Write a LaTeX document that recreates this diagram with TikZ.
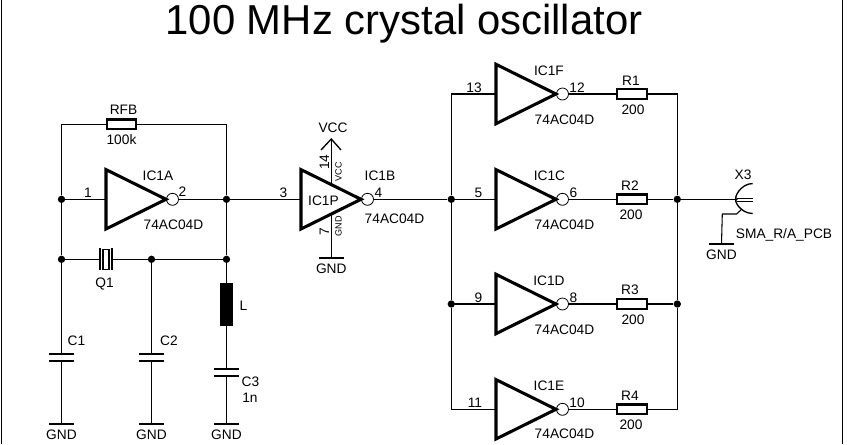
\documentclass[tikz,border=0pt]{standalone}
\usepackage{fontspec}
\setmainfont{Liberation Sans}
\tikzset{
  wire/.style={line width=.8pt,black},
  lab/.style={inner sep=0pt,font=\fontsize{10.3}{12}\selectfont,text=black},
  sml/.style={inner sep=0pt,font=\fontsize{6.8}{8}\selectfont,text=black,rotate=90},
  gatebody/.style={line width=2.3pt,black,line join=miter},
  bubble/.style={circle,draw=black,line width=.6pt,minimum size=9pt,inner sep=0pt},
  res/.style={rectangle,draw=black,line width=1.6pt,minimum width=22pt,minimum height=7.2pt,inner sep=0pt},
  dot/.style={circle,fill=black,minimum size=5.5pt,inner sep=0pt},
  capplate/.style={line width=1.7pt,black},
  gndbar/.style={line width=1.7pt,black}
}
% name, x of triangle left, y of centre
\newcommand{\invgate}[3]{%
  \coordinate (#1in) at (#2,#3);
  \coordinate (#1t) at (#2,#3-29.7);
  \coordinate (#1b) at (#2,#3+29.7);
  \coordinate (#1apex) at (#2+60,#3);
  \draw[gatebody] (#1t) -- (#1apex) -- (#1b) -- cycle;
  \node[bubble] (#1out) at (#2+66.5,#3) {};
}
\newcommand{\gndsym}[3]{% name x y
  \coordinate (#1) at (#2,#3);
  \coordinate (#1l) at (#2-12.3,#3);
  \coordinate (#1r) at (#2+12.3,#3);
  \draw[gndbar] (#1l) -- (#1r);
  \node[lab] (#1txt) at (#2,#3+10.5) {GND};
}
\newcommand{\capsym}[3]{% name x y(first plate)
  \coordinate (#1a) at (#2,#3);
  \coordinate (#1b) at (#2,#3+6.7);
  \draw[capplate] (#2-12.5,#3) -- (#2+12.5,#3);
  \draw[capplate] (#2-12.5,#3+6.7) -- (#2+12.5,#3+6.7);
}
\begin{document}
\begin{tikzpicture}[x=.75pt,y=-.75pt]
\useasboundingbox (0,0) rectangle (847,444);
\fill[white] (0,0) rectangle (847,444);
% frame
\coordinate (fl1) at (1.5,0); \coordinate (fl2) at (1.5,444);
\coordinate (fr1) at (842.5,0); \coordinate (fr2) at (842.5,444);
\draw[wire] (fl1) -- (fl2);
\draw[wire] (fr1) -- (fr2);
\node[inner sep=0pt,anchor=base,font=\fontsize{31.4}{35}\selectfont,text=black] (title) at (404,34) {100 MHz crystal oscillator};

% ---- oscillator
\coordinate (nTL) at (61.5,124.3);
\coordinate (nTR) at (226.5,124.3);
\node[dot] (jA) at (61.5,199.3) {};
\node[dot] (jB) at (226.5,199.3) {};
\node[dot] (jC) at (61.5,259.3) {};
\node[dot] (jD) at (226.5,259.3) {};
\node[dot] (jE) at (151.5,259.3) {};
\node[res] (RFB) at (121.3,124.3) {};
\invgate{a}{106}{199.3}
\draw[wire] (jA) -- (nTL) -- (RFB) -- (nTR) -- (jB);
\draw[wire] (jA) -- (ain);
\draw[wire] (aout) -- (jB);
\draw[wire] (jA) -- (jC);
\draw[wire] (jB) -- (jD);
% crystal
\node[rectangle,draw=black,line width=.9pt,minimum width=4.5pt,minimum height=15pt,inner sep=0pt] (Qb) at (106,259.3) {};
\coordinate (Qlt) at (100,248); \coordinate (Qlb) at (100,270);
\coordinate (Qrt) at (112,248); \coordinate (Qrb) at (112,270);
\coordinate (Ql) at (100,259.3); \coordinate (Qr) at (112,259.3);
\draw[line width=1.3pt] (Qlt) -- (Qlb);
\draw[line width=1.3pt] (Qrt) -- (Qrb);
\draw[wire] (jC) -- (Ql);
\draw[wire] (Qr) -- (jE);
\draw[wire] (jE) -- (jD);
% caps
\capsym{c1}{61.5}{354}
\capsym{c2}{151.5}{354}
\capsym{c3}{226.5}{369}
\gndsym{g1}{61.5}{424}
\gndsym{g2}{151.5}{424}
\gndsym{g3}{226.5}{424}
\node[rectangle,fill=black,minimum width=9.7pt,minimum height=32pt,inner sep=0pt] (Lb) at (226.5,304.3) {};
\draw[wire] (jC) -- (c1a);
\draw[wire] (c1b) -- (g1);
\draw[wire] (jE) -- (c2a);
\draw[wire] (c2b) -- (g2);
\draw[wire] (jD) -- (Lb);
\draw[wire] (Lb) -- (c3a);
\draw[wire] (c3b) -- (g3);
% labels
\node[lab] (tRFB) at (123.5,110) {RFB};
\node[lab] (vRFB) at (121.5,139.5) {100k};
\node[lab] (p1) at (88,193) {1};
\node[lab] (p2) at (182.5,192) {2};
\node[lab] (tIC1A) at (158,175.5) {IC1A};
\node[lab] (vIC1A) at (173.5,224.5) {74AC04D};
\node[lab] (tQ1) at (104.5,283.5) {Q1};
\node[lab] (tC1) at (76.5,340.5) {C1};
\node[lab] (tC2) at (169,340.5) {C2};
\node[lab] (tL) at (243.5,305.5) {L};
\node[lab] (tC3) at (250.5,382) {C3};
\node[lab] (vC3) at (250,398) {1n};

% ---- IC1B / IC1P
\invgate{b}{301}{199.3}
\node[dot] (j1) at (451.3,199.3) {};
\draw[wire] (jB) -- (bin);
\draw[wire] (bout) -- (j1);
\coordinate (vccTip) at (331.3,139);
\coordinate (vccL) at (321,150);
\coordinate (vccR) at (341,150);
\coordinate (vccIn) at (331.3,184);
\coordinate (gndIn) at (331.3,214);
\draw[wire] (vccTip) -- (vccIn);
\draw[line width=1pt] (vccL) -- (vccTip) -- (vccR);
\gndsym{g4}{331.3}{258}
\draw[wire] (gndIn) -- (g4);
\node[lab] (tVCC) at (333,128) {VCC};
\node[lab,rotate=90] (p14) at (324.5,162) {14};
\node[sml] (sVCC) at (338.5,172) {VCC};
\node[sml] (sGND) at (338.5,226) {GND};
\node[lab,rotate=90] (p7) at (324.5,232) {7};
\node[lab] (tIC1P) at (323.5,200.5) {IC1P};
\node[lab] (p3) at (283.5,192.5) {3};
\node[lab] (p4) at (378.5,192.5) {4};
\node[lab] (tIC1B) at (380,176) {IC1B};
\node[lab] (vIC1B) at (394.5,218.5) {74AC04D};

% ---- output stages
\invgate{f}{496}{94}
\invgate{c}{496}{199.3}
\invgate{d}{496}{304}
\invgate{e}{496}{409.3}
\node[res] (R1) at (632,94) {};
\node[res] (R2) at (632,199.3) {};
\node[res] (R3) at (632,304) {};
\node[res] (R4) at (632,409.3) {};
\coordinate (lt) at (451.3,94);
\coordinate (lb) at (451.3,409.3);
\coordinate (rt) at (677.3,94);
\coordinate (rb) at (677.3,409.3);
\node[dot] (j2) at (451.3,304) {};
\node[dot] (j3) at (677.3,199.3) {};
\node[dot] (j4) at (677.3,304) {};
\draw[wire] (fin) -- (lt) -- (j1) -- (j2) -- (lb) -- (ein);
\draw[wire] (j1) -- (cin);
\draw[wire] (j2) -- (din);
\draw[wire] (fout) -- (R1);
\draw[wire] (cout) -- (R2);
\draw[wire] (dout) -- (R3);
\draw[wire] (eout) -- (R4);
\draw[wire] (R1) -- (rt) -- (j3) -- (j4) -- (rb) -- (R4);
\draw[wire] (R2) -- (j3);
\draw[wire] (R3) -- (j4);
% labels row 1
\node[lab] (p13) at (474,88) {13};
\node[lab] (p12) at (577,88) {12};
\node[lab] (tF) at (549,71) {IC1F};
\node[lab] (vF) at (564.5,119.5) {74AC04D};
\node[lab] (tR1) at (631,81) {R1};
\node[lab] (vR1) at (633,109.5) {200};
% row 2
\node[lab] (p5) at (478.5,193) {5};
\node[lab] (p6) at (573.5,192.5) {6};
\node[lab] (tC) at (549.5,175.5) {IC1C};
\node[lab] (vC) at (564.5,224.5) {74AC04D};
\node[lab] (tR2) at (630,185.5) {R2};
\node[lab] (vR2) at (631,214.5) {200};
% row 3
\node[lab] (p9) at (478.5,298) {9};
\node[lab] (p8) at (573.5,297.5) {8};
\node[lab] (tD) at (549,280.5) {IC1D};
\node[lab] (vD) at (564.5,329.5) {74AC04D};
\node[lab] (tR3) at (630,290) {R3};
\node[lab] (vR3) at (633,319.5) {200};
% row 4
\node[lab] (p11) at (475,403) {11};
\node[lab] (p10) at (577,403) {10};
\node[lab] (tE) at (549,385.5) {IC1E};
\node[lab] (vE) at (564.5,434) {74AC04D};
\node[lab] (tR4) at (630,395.5) {R4};
\node[lab] (vR4) at (631,424.5) {200};

% ---- connector X3
\coordinate (xIn) at (736.7,199.3);
\coordinate (xA) at (752.7,183.5);
\coordinate (xB) at (752.7,213.5);
\coordinate (xC1) at (736.7,198.3);
\coordinate (xC2) at (752.7,198.3);
\coordinate (xD1) at (736.7,201.5);
\coordinate (xD2) at (752.7,201.5);
\coordinate (xG) at (742,209);
\coordinate (xH) at (736.5,214);
\draw[wire] (j3) -- (xIn);
\draw[line width=1pt] (xA) .. controls (740,183.5) and (733,199.3) .. (736.7,199.3) .. controls (733,199.3) and (740,213.5) .. (xB);
\draw[line width=1pt] (xC1) -- (xC2);
\draw[line width=1pt] (xD1) -- (xD2);
\gndsym{g5}{721.5}{244}
\coordinate (xJ) at (722.3,214);
\draw[wire] (g5) -- (xJ) -- (xH) -- (xG);
\node[lab] (tX3) at (743,175) {X3};
\node[lab] (vX3) at (784,234.5) {SMA\_R/A\_PCB};
\end{tikzpicture}
\end{document}
